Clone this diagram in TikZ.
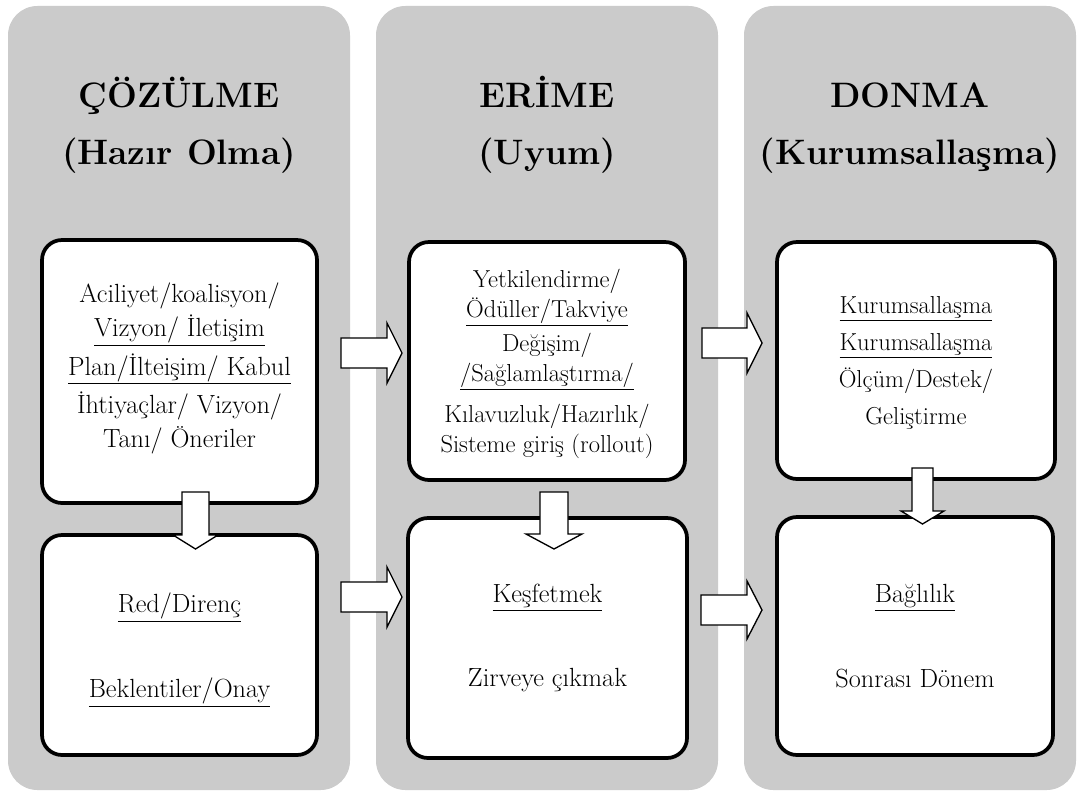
\documentclass[tikz,border=0pt]{standalone}
\usepackage{fontspec}
\usetikzlibrary{calc}
\definecolor{panelgray}{RGB}{203,203,203}
% block arrows: tail, tip, shaft half width, head half width, head length
\newcommand{\arrowright}[5]{%
  \draw[blockarr] ($(#1)+(0,-#3)$) -- ($(#2)+(-#5,-#3)$) -- ($(#2)+(-#5,-#4)$) -- (#2)
    -- ($(#2)+(-#5,#4)$) -- ($(#2)+(-#5,#3)$) -- ($(#1)+(0,#3)$) -- cycle;}
\newcommand{\arrowdown}[5]{%
  \draw[blockarr] ($(#1)+(-#3,0)$) -- ($(#2)+(-#3,-#5)$) -- ($(#2)+(-#4,-#5)$) -- (#2)
    -- ($(#2)+(#4,-#5)$) -- ($(#2)+(#3,-#5)$) -- ($(#1)+(#3,0)$) -- cycle;}

\begin{document}
\begin{tikzpicture}[x=0.75pt, y=-0.75pt,
    panel/.style={fill=panelgray, rounded corners=22pt, minimum height=588pt, inner sep=0pt},
    box/.style={draw, fill=white, line width=2.8pt, rounded corners=15pt, inner sep=0pt},
    title/.style={font=\fontsize{26.5}{42.75}\selectfont\bfseries, align=center},
    txt/.style={font=\fontsize{19.7}{25.5}\selectfont, align=center},
    blockarr/.style={draw=black, fill=white, line width=1pt, line join=miter}]
  \useasboundingbox (0,0) rectangle (1082,792);

  % three phases
  \node[panel, minimum width=256.5pt] (col1) at (179,398) {};
  \node[panel, minimum width=256.5pt] (col2) at (547,398) {};
  \node[panel, minimum width=249pt] (col3) at (910,398) {};

  \node[title] (head1) at (179,125) {\vphantom{Ö}ÇÖZÜLME\\(Hazır\hspace{0.4em}Olma)};
  \node[title] (head2) at (547,125) {\vphantom{Ö}ERİME\\(Uyum)};
  \node[title] (head3) at (910,125) {\vphantom{Ö}DONMA\\(Kurumsallaşma)};

  % boxes
  \node[box, minimum width=206.25pt, minimum height=197.25pt] (box1) at (179.5,371.5) {};
  \node[box, minimum width=206.25pt, minimum height=165pt] (box2) at (179.5,645) {};
  \node[box, minimum width=207pt, minimum height=178.5pt] (box3) at (547,361) {};
  \node[box, minimum width=209.25pt, minimum height=180pt] (box4) at (547.5,638) {};
  \node[box, minimum width=208.5pt, minimum height=177.75pt] (box5) at (916,360.5) {};
  \node[box, minimum width=207pt, minimum height=178.5pt] (box6) at (915,636) {};

  \node[txt] (text1) at ($(box1)+(0,-3)$) {Aciliyet/koalisyon/\\
    \underline{Vizyon/ İletişim}\\[3.5pt]
    \underline{Plan/İlteişim/ Kabul}\\[3.5pt]
    İhtiyaçlar/ Vizyon/\\
    Tanı/ Öneriler};
  \node[txt] (text2) at ($(box2)+(0,5)$) {\underline{Red/Direnç}\\[38pt]
    \underline{Beklentiler/Onay}};
  \node[txt, font=\fontsize{18.4}{22.5}\selectfont] (text3) at ($(box3)+(0,3)$) {Yetkilendirme/\\
    \underline{Ödüller/Takviye}\\[3pt]
    Değişim/\\
    \underline{/Sağlamlaştırma/}\\[8.5pt]
    Kılavuzluk/Hazırlık/\\
    Sisteme giriş (rollout)};
  \node[txt] (text4) at (box4) {\underline{Keşfetmek}\\[37pt]
    Zirveye çıkmak};
  \node[txt, font=\fontsize{18.4}{27.75}\selectfont] (text5) at ($(box5)+(0,2)$) {\underline{Kurumsallaşma}\\
    \underline{Kurumsallaşma}\\
    Ölçüm/Destek/\\
    Geliştirme};
  \node[txt] (text6) at (box6) {\underline{Bağlılık}\\[38pt]
    Sonrası Dönem};

  % arrow ends
  \coordinate (r1tail) at (341,353);   \coordinate (r1tip) at (402,353);
  \coordinate (r2tail) at (341,597);   \coordinate (r2tip) at (402,597);
  \coordinate (r3tail) at (702,343);   \coordinate (r3tip) at (762,343);
  \coordinate (r4tail) at (701,610);   \coordinate (r4tip) at (762,610);
  \coordinate (d1tail) at (195.5,492); \coordinate (d1tip) at (195.5,549);
  \coordinate (d2tail) at (554,492);   \coordinate (d2tip) at (554,549);
  \coordinate (d3tail) at (922.5,468); \coordinate (d3tip) at (922.5,524);

  \arrowright{r1tail}{r1tip}{15}{30}{15}
  \arrowright{r2tail}{r2tip}{15}{30}{15}
  \arrowright{r3tail}{r3tip}{15}{30}{15}
  \arrowright{r4tail}{r4tip}{15}{29}{15}
  \arrowdown{d1tail}{d1tip}{13.5}{22.5}{14}
  \arrowdown{d2tail}{d2tip}{14}{28}{15}
  \arrowdown{d3tail}{d3tip}{10.5}{21.5}{13}
\end{tikzpicture}
\end{document}
